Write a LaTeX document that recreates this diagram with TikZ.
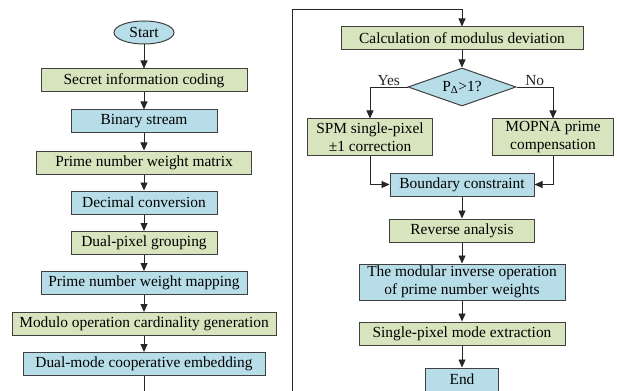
\documentclass[tikz,border=0pt]{standalone}
\usepackage{fontspec}
\setmainfont{Liberation Serif}
\usetikzlibrary{shapes.geometric,arrows.meta}

\definecolor{boxgreen}{HTML}{D7E4BD}
\definecolor{boxblue}{HTML}{B7DEE8}

\begin{document}
\begin{tikzpicture}[x=1pt, y=-1pt,
    >={Stealth[length=8pt,width=7pt,inset=0pt]},
    font=\fontsize{15.4}{17.5}\selectfont,
    box/.style={draw=black!75, line width=1pt, minimum height=23pt,
      inner sep=2pt, align=center},
    gbox/.style={box, fill=boxgreen},
    bbox/.style={box, fill=boxblue},
    flow/.style={->, line width=0.8pt, black!85}]
  % Page frame: one pixel of the reference is one point here
  \useasboundingbox (0,0) rectangle (617,390);
  \clip (0,0) rectangle (617,390);

  % Left column: embedding side
  \node[ellipse, draw=black!75, line width=1pt, fill=boxblue,
    minimum width=60pt, minimum height=23pt, inner sep=0pt] (start) at (144,32.5) {Start};
  \node[gbox, minimum width=206pt] (coding)   at (144,80.5) {Secret information coding};
  \node[bbox, minimum width=146pt] (binary)   at (144,121.5) {Binary stream};
  \node[gbox, minimum width=215pt] (matrix)   at (144,162.5) {Prime number weight matrix};
  \node[bbox, minimum width=146pt] (decimal)  at (144,202.5) {Decimal conversion};
  \node[gbox, minimum width=146pt] (grouping) at (144,243) {Dual-pixel grouping};
  \node[bbox, minimum width=206pt] (mapping)  at (144,283) {Prime number weight mapping};
  \node[gbox, minimum width=264pt] (modulo)   at (144,324) {Modulo operation cardinality generation};
  \node[bbox, minimum width=242pt] (embed)    at (144,364) {Dual-mode cooperative embedding};

  \foreach \a/\b in {start/coding, coding/binary, binary/matrix, matrix/decimal,
      decimal/grouping, grouping/mapping, mapping/modulo, modulo/embed} {
    \draw[flow] (\a) -- (\b);
  }

  % Right column: correction and extraction side
  \node[gbox, minimum width=242pt] (deviation) at (462,38.5) {Calculation of modulus deviation};
  \node[diamond, draw=black!75, line width=1pt, fill=boxblue, aspect=2.8,
    minimum width=108pt, minimum height=38pt, inner sep=0pt] (judge) at (462,87) {P\textsubscript{Δ}>1?};
  \node[gbox, minimum width=125pt, minimum height=36pt] (spm)   at (370,137) {SPM single-pixel\\±1 correction};
  \node[gbox, minimum width=121pt, minimum height=36pt] (mopna) at (553,137) {MOPNA prime\\compensation};
  \node[bbox, minimum width=144pt] (boundary) at (462,184.5) {Boundary constraint};
  \node[gbox, minimum width=145pt] (reverse)  at (462,230.5) {Reverse analysis};
  \node[bbox, minimum width=206pt, minimum height=36pt] (inverse) at (462,282) {The modular inverse operation\\of prime number weights};
  \node[gbox, minimum width=206pt] (extract)  at (462,333.5) {Single-pixel mode extraction};
  \node[bbox, minimum width=73pt]  (end)      at (462,379.5) {End};

  % Hand-over between the columns runs below the page edge
  \draw[flow] (embed.south) -- (144,398) -- (292,398) -- (292,9) -| (deviation.north);
  \draw[flow] (deviation) -- (judge);
  \draw[flow] (judge.west) -| node[pos=0.25, above, inner sep=1pt] {Yes} (spm.north);
  \draw[flow] (judge.east) -| node[pos=0.25, above, inner sep=1pt] {No} (mopna.north);
  \draw[flow] (spm.south) |- (boundary.west);
  \draw[flow] (mopna.south) |- (boundary.east);
  \foreach \a/\b in {boundary/reverse, reverse/inverse, inverse/extract, extract/end} {
    \draw[flow] (\a) -- (\b);
  }
\end{tikzpicture}
\end{document}
